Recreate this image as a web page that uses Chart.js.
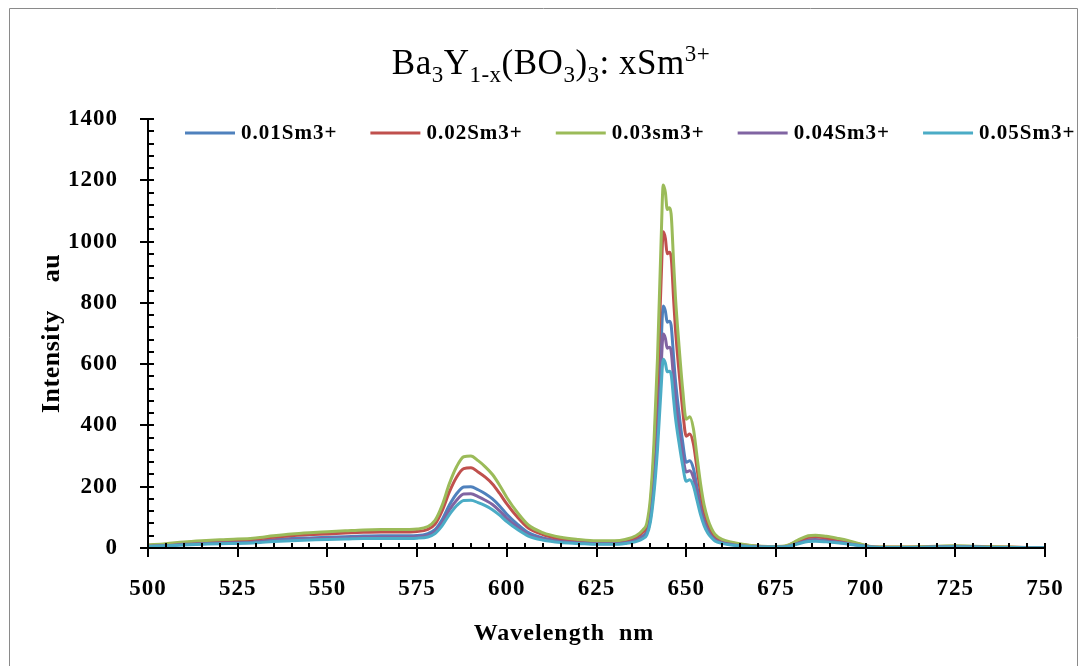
<!DOCTYPE html>
<html>
<head>
<meta charset="utf-8">
<script src="https://cdn.jsdelivr.net/npm/chart.js@4.4.1/dist/chart.umd.min.js"></script>
<style>
  html, body { margin: 0; padding: 0; background: #fff; }
  #wrap { width: 1085px; height: 666px; }
</style>
</head>
<body>
<div id="wrap"><canvas id="spectrum"></canvas></div>
<script>
const wavelengths = [500, 505, 510, 515, 520, 525, 530, 535, 540, 545, 550, 555, 560, 565, 570, 575, 578, 580, 582, 584, 586, 588, 590, 592, 594, 596, 598, 600, 603, 606, 610, 615, 620, 625, 630, 633, 636, 638, 639, 640, 641, 642, 643, 643.6, 644.2, 644.7, 645.3, 645.8, 646.5, 647, 648, 649, 650, 651, 652, 653, 654, 655, 656, 657, 658, 660, 663, 667, 671, 675, 678, 681, 684, 686, 689, 692, 695, 698, 701, 704, 710, 715, 720, 725, 730, 735, 740, 745, 750];

const sm001 = [7, 9, 13, 16, 18, 19, 22, 27, 31, 33, 35, 37, 39, 40, 40, 41, 47, 60, 93, 140, 177, 199, 200, 190, 177, 160, 137, 110, 77, 50, 33, 23, 19, 16, 16, 19, 27, 40, 53, 107, 227, 413, 667, 790, 773, 737, 740, 727, 620, 547, 440, 347, 280, 285, 260, 200, 140, 93, 63, 43, 30, 19, 12, 7, 4, 3, 5, 17, 27, 28, 25, 21, 17, 10, 4, 2, 2, 3, 4, 5, 4, 3, 2, 1, 1];
const sm002 = [9, 12, 17, 21, 24, 26, 29, 35, 40, 44, 46, 49, 51, 52, 52, 54, 61, 78, 122, 183, 231, 259, 262, 248, 231, 209, 178, 144, 100, 65, 44, 30, 24, 21, 21, 24, 35, 52, 70, 140, 296, 540, 870, 1032, 1010, 960, 965, 950, 810, 715, 575, 452, 365, 372, 340, 261, 183, 122, 83, 57, 39, 24, 16, 9, 5, 4, 7, 22, 35, 37, 33, 28, 22, 13, 5, 3, 3, 3, 5, 6, 5, 3, 3, 2, 2];
const sm003 = [10, 14, 20, 24, 27, 29, 33, 40, 46, 50, 53, 56, 59, 60, 60, 62, 70, 90, 140, 210, 265, 298, 300, 285, 265, 240, 205, 165, 115, 75, 50, 35, 28, 24, 24, 28, 40, 60, 80, 160, 340, 620, 1000, 1185, 1160, 1105, 1110, 1090, 930, 820, 660, 520, 420, 428, 390, 300, 210, 140, 95, 65, 45, 28, 18, 10, 6, 5, 8, 25, 40, 42, 38, 32, 25, 15, 6, 3, 3, 4, 6, 7, 6, 4, 3, 2, 2];
const sm004 = [6, 8, 12, 14, 16, 17, 19, 24, 27, 30, 31, 33, 35, 35, 35, 37, 41, 53, 83, 124, 156, 176, 177, 168, 156, 142, 121, 97, 68, 44, 30, 21, 17, 14, 14, 17, 24, 35, 47, 94, 200, 365, 590, 698, 684, 652, 655, 643, 549, 484, 389, 307, 248, 252, 230, 177, 124, 83, 56, 38, 27, 17, 11, 6, 4, 3, 5, 15, 24, 25, 22, 19, 15, 9, 4, 2, 2, 2, 4, 4, 4, 2, 2, 1, 1];
const sm005 = [5, 7, 10, 12, 14, 15, 17, 21, 24, 26, 28, 29, 31, 31, 31, 32, 36, 47, 73, 109, 138, 155, 156, 148, 138, 125, 107, 86, 60, 39, 26, 18, 15, 12, 12, 15, 21, 31, 42, 83, 177, 322, 520, 616, 603, 575, 577, 567, 484, 426, 343, 270, 218, 223, 203, 156, 109, 73, 49, 34, 23, 15, 9, 5, 3, 3, 4, 13, 21, 22, 20, 17, 13, 8, 3, 2, 2, 2, 3, 4, 3, 2, 2, 1, 1];

const seriesLabels = ['0.01Sm3+', '0.02Sm3+', '0.03sm3+', '0.04Sm3+', '0.05Sm3+'];
const seriesColors = ['#4f81bd', '#c0504d', '#9bbb59', '#8064a2', '#4bacc6'];
const seriesValues = [sm001, sm002, sm003, sm004, sm005];

const serif = '"Liberation Serif", "Times New Roman", serif';

// draws frame, title with sub/superscripts, legend, axis titles, axes and ticks
const decorations = {
  id: 'decorations',
  beforeDraw(chart) {
    chart.ctx.letterSpacing = '1px';
  },
  afterDraw(chart) {
    const ctx = chart.ctx;
    const area = chart.chartArea;
    const xs = chart.scales.x;
    const ys = chart.scales.y;
    ctx.save();

    // outer frame
    ctx.strokeStyle = '#8a8a8a';
    ctx.lineWidth = 1;
    ctx.beginPath();
    ctx.moveTo(9.5, 700);
    ctx.lineTo(9.5, 8.5);
    ctx.lineTo(1077.5, 8.5);
    ctx.lineTo(1077.5, 700);
    ctx.stroke();

    // title
    const parts = [
      ['Ba', 0], ['3', 1], ['Y', 0], ['1-x', 1], ['(BO', 0], ['3', 1], [')', 0], ['3', 1], [': xSm', 0], ['3+', -1]
    ];
    const big = 'normal 35px ' + serif;
    const small = 'normal 23px ' + serif;
    ctx.letterSpacing = '0.5px';
    let total = 0;
    parts.forEach(p => { ctx.font = p[1] ? small : big; total += ctx.measureText(p[0]).width; });
    let tx = 551 - total / 2;
    const base = 74;
    ctx.fillStyle = '#000';
    ctx.textAlign = 'left';
    ctx.textBaseline = 'alphabetic';
    parts.forEach(p => {
      ctx.font = p[1] ? small : big;
      const dy = p[1] === 1 ? 8 : (p[1] === -1 ? -13 : 0);
      ctx.fillText(p[0], tx, base + dy);
      tx += ctx.measureText(p[0]).width;
    });

    // legend
    ctx.font = 'bold 21px ' + serif;
    ctx.letterSpacing = '1px';
    ctx.textBaseline = 'middle';
    let lx = 185;
    const ly = 133;
    seriesLabels.forEach((lab, i) => {
      ctx.strokeStyle = seriesColors[i];
      ctx.lineWidth = 3;
      ctx.beginPath();
      ctx.moveTo(lx, ly);
      ctx.lineTo(lx + 50, ly);
      ctx.stroke();
      ctx.fillStyle = '#000';
      ctx.fillText(lab, lx + 56, ly + 1);
      lx += 56 + ctx.measureText(lab).width + 33;
    });

    // axis titles
    ctx.font = 'bold 24px ' + serif;
    ctx.letterSpacing = '1px';
    ctx.textAlign = 'center';
    ctx.textBaseline = 'alphabetic';
    ctx.fillText('Wavelength  nm', 564, 640);
    ctx.save();
    ctx.translate(59, (area.top + area.bottom) / 2);
    ctx.rotate(-Math.PI / 2);
    ctx.font = 'bold 26px ' + serif;
    ctx.letterSpacing = '0.5px';
    ctx.fillText('Intensity    au', 0, 0);
    ctx.restore();

    // axes with crossing ticks
    ctx.strokeStyle = '#000';
    ctx.lineWidth = 2;
    ctx.beginPath();
    ctx.moveTo(area.left, area.top);
    ctx.lineTo(area.left, area.bottom);
    ctx.lineTo(area.right, area.bottom);
    ctx.stroke();
    ctx.beginPath();
    for (let v = xs.min; v <= xs.max; v += 5) {
      const px = Math.round(xs.getPixelForValue(v));
      if (v % 25 === 0) {
        ctx.moveTo(px, area.bottom - 5);
        ctx.lineTo(px, area.bottom + 9);
      } else {
        ctx.moveTo(px, area.bottom - 5);
        ctx.lineTo(px, area.bottom);
      }
    }
    for (let v = ys.min; v <= ys.max; v += 40) {
      const py = Math.round(ys.getPixelForValue(v));
      if (v % 200 === 0) {
        ctx.moveTo(area.left - 8, py);
        ctx.lineTo(area.left + 6, py);
      } else {
        ctx.moveTo(area.left, py);
        ctx.lineTo(area.left + 6, py);
      }
    }
    ctx.stroke();
    ctx.restore();
  }
};

new Chart(document.getElementById('spectrum'), {
  type: 'line',
  data: {
    datasets: seriesValues.map((vals, i) => ({
      label: seriesLabels[i],
      data: wavelengths.map((w, j) => ({ x: w, y: vals[j] })),
      borderColor: seriesColors[i],
      backgroundColor: seriesColors[i],
      borderWidth: 3,
      pointRadius: 0,
      cubicInterpolationMode: 'monotone',
      fill: false,
      order: seriesValues.length - i
    }))
  },
  options: {
    responsive: true,
    maintainAspectRatio: false,
    animation: false,
    layout: { padding: { top: 119, right: 40, left: 0, bottom: 0 } },
    plugins: { legend: { display: false }, tooltip: { enabled: false }, title: { display: false } },
    scales: {
      x: {
        type: 'linear',
        min: 500,
        max: 750,
        grid: { display: false },
        border: { display: false },
        ticks: { stepSize: 25, color: '#000', padding: 19, maxRotation: 0, font: { family: serif, size: 23, weight: 'bold' } },
        afterFit(scale) { scale.height = 118; }
      },
      y: {
        min: 0,
        max: 1400,
        grid: { display: false },
        border: { display: false },
        ticks: {
          stepSize: 200, color: '#000', padding: 22,
          font: { family: serif, size: 23, weight: 'bold' },
          callback: (v) => String(v)
        },
        afterFit(scale) { scale.width = 148; }
      }
    }
  },
  plugins: [decorations]
});
</script>
</body>
</html>
